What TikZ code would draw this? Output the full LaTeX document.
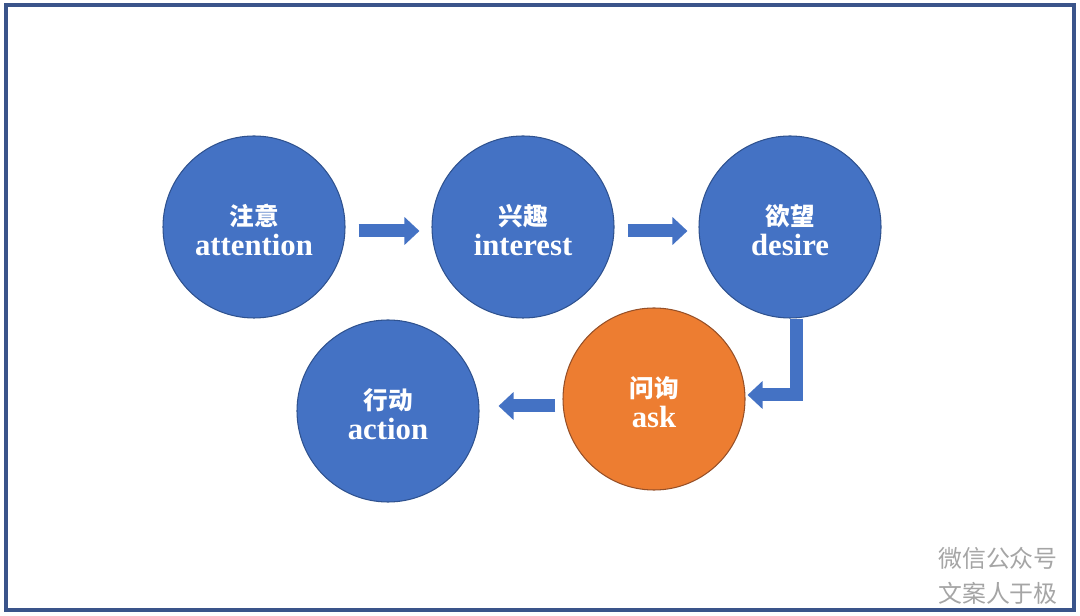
\documentclass[tikz,border=0pt]{standalone}
\usepackage{fontspec}
\setmainfont{Liberation Serif}
\newfontfamily\cjk{Noto Sans CJK SC}
\usepackage{tikz}
\usetikzlibrary{arrows.meta, positioning, calc}
\definecolor{aidablue}{RGB}{68,114,196}
\definecolor{aidaline}{RGB}{47,82,143}
\definecolor{aidaorange}{RGB}{237,125,49}
\definecolor{aidabrown}{RGB}{150,80,40}
\definecolor{frameblue}{RGB}{58,84,138}
\definecolor{markgray}{RGB}{165,165,165}
\tikzset{
  bubble/.style={circle, draw=aidaline, fill=aidablue, line width=0.6pt,
                 minimum size=3.64cm, inner sep=0pt, align=center, text=white,
                 font=\fontsize{17.5}{17}\selectfont\bfseries},
  bubbleask/.style={bubble, draw=aidabrown, fill=aidaorange},
  blockarr/.style={draw=aidablue, line width=0.26cm,
                   -{Triangle[length=0.3cm, width=0.54cm]}},
}

\begin{document}
\begin{tikzpicture}
  \useasboundingbox (0,0) rectangle (21.6,12.3);

  % ─── frame ─────────────────────────────────────────────
  \draw[frameblue, line width=0.08cm] (0.11,0.10) rectangle (21.48,12.19);

  % ─── top row: attention -> interest -> desire ─────────
  \node[bubble] (attention) at (5.08, 7.76)
    {\rule{0pt}{0.55cm}{\cjk\fontsize{14}{17}\selectfont 注意}\\attention};
  \node[bubble] (interest)  at (10.46,7.76)
    {\rule{0pt}{0.55cm}{\cjk\fontsize{14}{17}\selectfont 兴趣}\\interest};
  \node[bubble] (desire)    at (15.80,7.76)
    {\rule{0pt}{0.55cm}{\cjk\fontsize{14}{17}\selectfont 欲望}\\desire};

  % ─── bottom row: ask, action ──────────────────────────
  \node[bubbleask] (ask)  at (13.08,4.32)
    {\rule{0pt}{0.55cm}{\cjk\fontsize{14}{17}\selectfont 问询}\\ask};
  \node[bubble] (action)  at (7.76, 4.08)
    {\rule{0pt}{0.55cm}{\cjk\fontsize{14}{17}\selectfont 行动}\\action};

  % ─── block arrows ─────────────────────────────────────
  \draw[blockarr, shorten <=0.26cm, shorten >=0.24cm]
    ([yshift=-0.08cm]attention.east) -- ([yshift=-0.08cm]interest.west);
  \draw[blockarr, shorten <=0.26cm, shorten >=0.22cm]
    ([yshift=-0.08cm]interest.east) -- ([yshift=-0.08cm]desire.west);
  \draw[blockarr, shorten >=0.04cm]
    ([xshift=0.12cm]desire.south) |- ([yshift=0.08cm]ask.east);
  \draw[blockarr, shorten <=0.14cm, shorten >=0.38cm]
    ([yshift=-0.14cm]ask.west) -- ([yshift=0.10cm]action.east);

  % ─── watermark ────────────────────────────────────────
  \node[text=markgray, align=center, inner sep=0pt,
        font=\cjk\fontsize{13.6}{20}\selectfont] (mark) at (19.96,0.79)
    {微信公众号\\文案人于极};

\end{tikzpicture}
\end{document}
